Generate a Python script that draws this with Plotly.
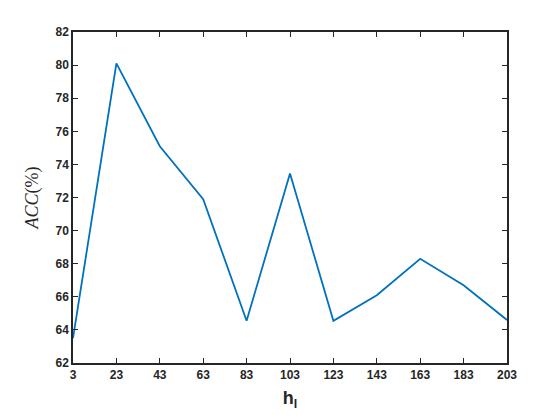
import plotly.graph_objects as go

h_l = [3, 23, 43, 63, 83, 103, 123, 143, 163, 183, 203]
acc = [63.5, 80.1, 75.1, 71.9, 64.55, 73.45, 64.55, 66.1, 68.3, 66.7, 64.6]
x_ticks = h_l
y_ticks = [62, 64, 66, 68, 70, 72, 74, 76, 78, 80, 82]

fig = go.Figure()
fig.add_trace(go.Scatter(x=h_l, y=acc, mode="lines",
                         line=dict(color="#0072BD", width=1.8)))

axis_common = dict(showline=True, linecolor="#262626", linewidth=1.5, mirror="ticks",
                   ticks="inside", ticklen=5, tickwidth=1.2, tickcolor="#262626",
                   showgrid=False, zeroline=False,
                   tickfont=dict(family="Liberation Sans, Arial", size=12, color="#262626"))

fig.update_xaxes(range=[3, 203], tickmode="array", tickvals=x_ticks,
                 ticktext=[f"<b>{v}</b>" for v in x_ticks],
                 title=dict(text="<b>h<sub>l</sub></b>", standoff=10,
                            font=dict(family="Liberation Sans, Arial", size=18, color="#262626")),
                 **axis_common)
fig.update_yaxes(range=[62, 82], tickmode="array", tickvals=y_ticks,
                 ticktext=[f"<b>{v}</b>" for v in y_ticks],
                 title=dict(text="<i>ACC</i>(%)", standoff=12,
                            font=dict(family="Liberation Serif, Times New Roman", size=18, color="#262626")),
                 **axis_common)

fig.update_layout(width=560, height=420, showlegend=False,
                  paper_bgcolor="white", plot_bgcolor="white",
                  margin=dict(l=73, r=53, t=32, b=57))

fig.write_html("out.html", config={"displayModeBar": False},
               post_script="document.body.style.margin='0';")
